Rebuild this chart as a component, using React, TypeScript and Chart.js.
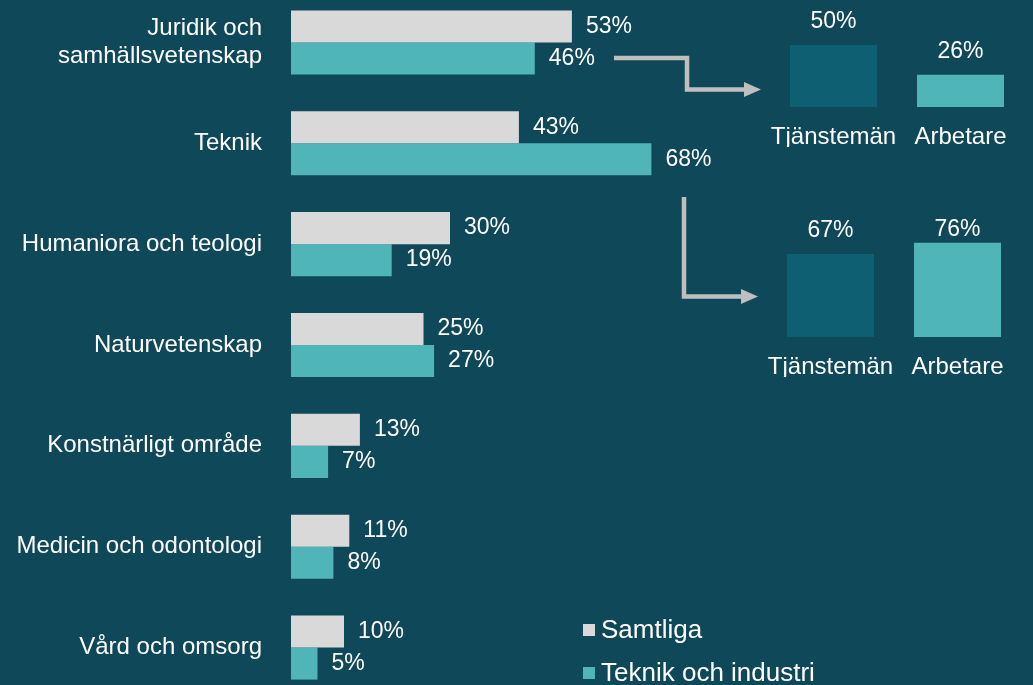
import React, { useEffect, useRef } from "react";
import { Chart, registerables } from "chart.js";
Chart.register(...registerables);

const categories: (string | string[])[] = [
  ["Juridik och", "samhällsvetenskap"],
  "Teknik",
  "Humaniora och teologi",
  "Naturvetenskap",
  "Konstnärligt område",
  "Medicin och odontologi",
  "Vård och omsorg",
];
const seriesNames = ["Samtliga", "Teknik och industri"];
const samtliga = [53, 43, 30, 25, 13, 11, 10];
const teknikIndustri = [46, 68, 19, 27, 7, 8, 5];

const insetCategories = ["Tjänstemän", "Arbetare"];
const juridikInset = [50, 26];
const teknikInset = [67, 76];

const BG = "#0f4858";
const GRAY = "#d9d9d9";
const TEAL = "#4fb5b8";
const DARK = "#0f5f73";
const TEXT = "#ffffff";
const ARROW = "#bfbfbf";
const FONT = "'Liberation Sans', Arial, sans-serif";

const MAIN_TOP = -8; // page offset of main canvas

const mainLabels = {
  id: "mainLabels",
  afterDatasetsDraw(chart: any) {
    const ctx = chart.ctx;
    ctx.save();
    ctx.fillStyle = TEXT;
    ctx.font = `23px ${FONT}`;
    ctx.textBaseline = "middle";
    ctx.textAlign = "left";
    chart.data.datasets.forEach((ds: any, i: number) => {
      const meta = chart.getDatasetMeta(i);
      meta.data.forEach((el: any, j: number) => {
        ctx.fillText(`${ds.data[j]}%`, el.x + 14, el.y);
      });
    });
    ctx.restore();
  },
  afterDraw(chart: any) {
    const ctx = chart.ctx;
    const off = -MAIN_TOP;
    ctx.save();
    // legend
    const legendY = [630, 673];
    chart.data.datasets.forEach((ds: any, i: number) => {
      const y = legendY[i] + off;
      ctx.fillStyle = ds.backgroundColor;
      ctx.fillRect(583, y - 6, 12, 12);
      ctx.fillStyle = TEXT;
      ctx.font = `26px ${FONT}`;
      ctx.textBaseline = "middle";
      ctx.textAlign = "left";
      ctx.fillText(ds.label, 601, y + 1);
    });
    // arrows
    ctx.strokeStyle = ARROW;
    ctx.fillStyle = ARROW;
    ctx.lineWidth = 4.5;
    ctx.lineJoin = "miter";
    ctx.beginPath();
    ctx.moveTo(614, 58 + off);
    ctx.lineTo(687, 58 + off);
    ctx.lineTo(687, 89.5 + off);
    ctx.lineTo(746, 89.5 + off);
    ctx.stroke();
    ctx.beginPath();
    ctx.moveTo(744, 82 + off);
    ctx.lineTo(761, 89.5 + off);
    ctx.lineTo(744, 97 + off);
    ctx.closePath();
    ctx.fill();

    ctx.beginPath();
    ctx.moveTo(684, 197 + off);
    ctx.lineTo(684, 296.5 + off);
    ctx.lineTo(743, 296.5 + off);
    ctx.stroke();
    ctx.beginPath();
    ctx.moveTo(741, 289 + off);
    ctx.lineTo(758, 296.5 + off);
    ctx.lineTo(741, 304 + off);
    ctx.closePath();
    ctx.fill();
    ctx.restore();
  },
};

const insetLabels = {
  id: "insetLabels",
  afterDatasetsDraw(chart: any) {
    const ctx = chart.ctx;
    ctx.save();
    ctx.fillStyle = TEXT;
    ctx.font = `23px ${FONT}`;
    ctx.textBaseline = "middle";
    ctx.textAlign = "center";
    const meta = chart.getDatasetMeta(0);
    const ds = chart.data.datasets[0];
    meta.data.forEach((el: any, j: number) => {
      const y = Math.max(el.y - 23, chart.chartArea.top + 17);
      ctx.fillText(`${ds.data[j]}%`, el.x, y);
    });
    ctx.restore();
  },
};

function MainChart() {
  const ref = useRef<HTMLCanvasElement>(null);
  useEffect(() => {
    const chart = new Chart(ref.current!, {
      type: "bar",
      data: {
        labels: categories as any,
        datasets: [
          {
            label: seriesNames[0],
            data: samtliga,
            backgroundColor: GRAY,
            barPercentage: 1,
            categoryPercentage: 0.635,
          },
          {
            label: seriesNames[1],
            data: teknikIndustri,
            backgroundColor: TEAL,
            barPercentage: 1,
            categoryPercentage: 0.635,
          },
        ],
      },
      options: {
        indexAxis: "y",
        responsive: false,
        animation: false,
        devicePixelRatio: 1,
        layout: { padding: { left: 0, right: 212, top: 0, bottom: 0 } },
        plugins: { legend: { display: false }, tooltip: { enabled: false } },
        scales: {
          x: { display: false, min: 0, max: 100 },
          y: {
            grid: { display: false, drawTicks: false },
            border: { display: false },
            ticks: {
              color: TEXT,
              font: { family: FONT, size: 24, lineHeight: 1.17 },
              padding: 29,
              autoSkip: false,
            },
            afterFit: (s: any) => {
              s.width = 291;
              s.paddingTop = 0;
              s.paddingBottom = 0;
            },
          },
        },
      } as any,
      plugins: [mainLabels],
    });
    return () => chart.destroy();
  }, []);
  return (
    <canvas
      ref={ref}
      width={1033}
      height={706}
      style={{ position: "absolute", left: 0, top: MAIN_TOP, width: 1033, height: 706 }}
    />
  );
}

function InsetChart({ values, left, top }: { values: number[]; left: number; top: number }) {
  const ref = useRef<HTMLCanvasElement>(null);
  useEffect(() => {
    const chart = new Chart(ref.current!, {
      type: "bar",
      data: {
        labels: insetCategories,
        datasets: [
          {
            data: values,
            backgroundColor: [DARK, TEAL],
            barPercentage: 0.685,
            categoryPercentage: 1,
          },
        ],
      },
      options: {
        responsive: false,
        animation: false,
        devicePixelRatio: 1,
        layout: { padding: { left: 30, right: 9, top: 23, bottom: 13 } },
        plugins: { legend: { display: false }, tooltip: { enabled: false } },
        scales: {
          y: { display: false, min: 0, max: 100 },
          x: {
            grid: { display: false, drawTicks: false },
            border: { display: false },
            ticks: {
              color: TEXT,
              font: { family: FONT, size: 24 },
              padding: 16,
              maxRotation: 0,
              autoSkip: false,
            },
            afterFit: (s: any) => {
              s.height = 40;
              s.paddingLeft = 0;
              s.paddingRight = 0;
            },
          },
        },
      } as any,
      plugins: [insetLabels],
    });
    return () => chart.destroy();
  }, []);
  return (
    <canvas
      ref={ref}
      width={293}
      height={200}
      style={{ position: "absolute", left, top, width: 293, height: 200 }}
    />
  );
}

export default function App() {
  return (
    <div
      style={{
        position: "fixed",
        left: 0,
        top: 0,
        width: 1033,
        height: 685,
        background: BG,
        overflow: "hidden",
      }}
    >
      <MainChart />
      <InsetChart values={juridikInset} left={740} top={-40} />
      <InsetChart values={teknikInset} left={737} top={190} />
    </div>
  );
}
